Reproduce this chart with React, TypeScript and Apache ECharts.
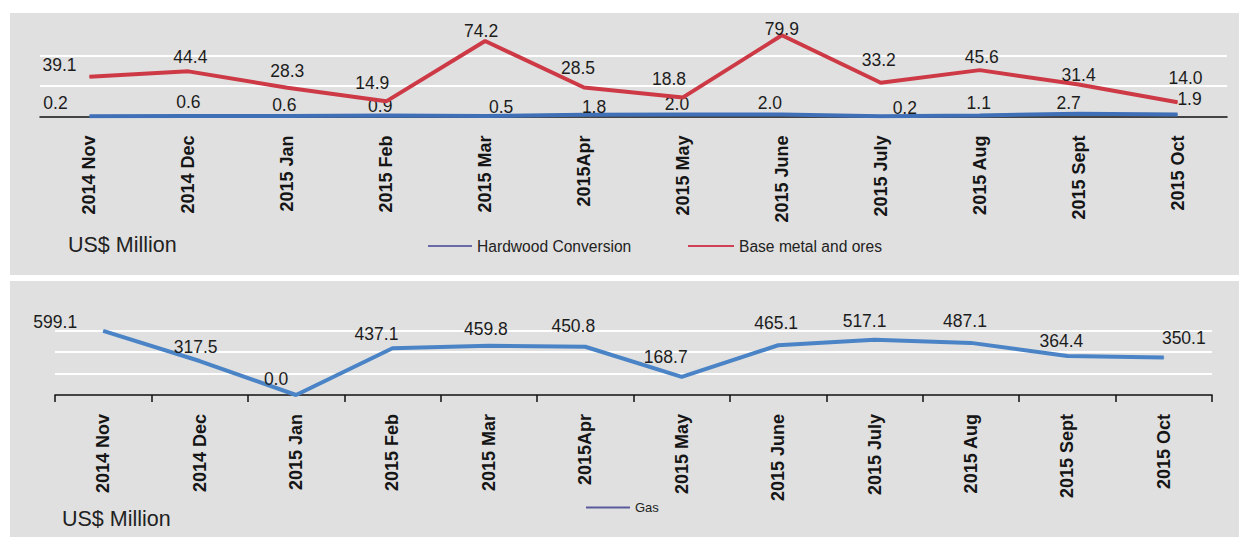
import React, { useEffect, useRef } from "react";
import * as echarts from "echarts";

const categories = [
  "2014 Nov", "2014 Dec", "2015 Jan", "2015 Feb", "2015 Mar", "2015Apr",
  "2015 May", "2015 June", "2015 July", "2015 Aug", "2015 Sept", "2015 Oct",
];
const hardwoodConversion = [0.2, 0.6, 0.6, 0.9, 0.5, 1.8, 2.0, 2.0, 0.2, 1.1, 2.7, 1.9];
const baseMetalOres = [39.1, 44.4, 28.3, 14.9, 74.2, 28.5, 18.8, 79.9, 33.2, 45.6, 31.4, 14.0];
const gas = [599.1, 317.5, 0.0, 437.1, 459.8, 450.8, 168.7, 465.1, 517.1, 487.1, 364.4, 350.1];

const topTicks = { min: 0, max: 90, interval: 30 };
const bottomTicks = { min: 0, max: 800, interval: 200 };

// label placement styling: [dx, rise above point]
const hardwoodLabelShift = [
  [-34, 13], [0, 13], [-3, 10], [-6, 9], [16, 8], [10, 7],
  [-6, 10], [-12, 11], [24, 8], [-1, 12], [-10, 10], [12, 15],
];
const baseMetalLabelShift = [
  [-30, 11], [2, 14], [0, 16], [-14, 18], [-4, 10], [-6, 19],
  [-14, 18], [0, 6], [-2, 22], [2, 13], [0, 9], [8, 24],
];
const gasLabelShift = [
  [-48, 8], [-4, 14], [-20, 16], [-16, 14], [-3, 16], [-12, 20],
  [-16, 19], [-2, 22], [-10, 18], [-6, 21], [-6, 15], [20, 19],
];

const FONT = "Arial, 'Liberation Sans', sans-serif";
const LABEL_SIZE = 17.5;

function withLabels(values: number[], shifts: number[][]) {
  return values.map((v, i) => ({
    value: v,
    label: { offset: [shifts[i][0], -(shifts[i][1] - LABEL_SIZE / 2)] },
  }));
}

export default function App() {
  const ref = useRef<HTMLDivElement>(null);

  useEffect(() => {
    if (!ref.current) return;
    const chart = echarts.init(ref.current, null, { renderer: "svg" });

    const labelStyle = {
      show: true,
      position: "top",
      distance: 0,
      fontSize: LABEL_SIZE,
      lineHeight: LABEL_SIZE,
      color: "#1c1c1c",
      fontFamily: FONT,
      formatter: (p: any) => Number(p.value).toFixed(1),
    };

    const catAxisLabel = {
      rotate: 90,
      fontSize: 18,
      fontWeight: "bold",
      color: "#151515",
      fontFamily: FONT,
      margin: 19,
    };

    const splitLine = {
      show: true,
      showMinLine: false,
      showMaxLine: false,
      lineStyle: { color: "#ffffff", width: 2 },
    };

    chart.setOption({
      animation: false,
      backgroundColor: "#ffffff",
      graphic: [
        { type: "rect", z: -10, silent: true, shape: { x: 10, y: 13, width: 1229, height: 262 }, style: { fill: "#e0e0e0" } },
        { type: "rect", z: -10, silent: true, shape: { x: 10, y: 281, width: 1229, height: 256 }, style: { fill: "#e0e0e0" } },
        { type: "text", x: 68, y: 245, style: { text: "US$ Million", fontSize: 21.5, fontFamily: FONT, fill: "#222", verticalAlign: "middle" } },
        { type: "text", x: 62, y: 519, style: { text: "US$ Million", fontSize: 21.5, fontFamily: FONT, fill: "#222", verticalAlign: "middle" } },
      ],
      legend: [
        {
          data: [{ name: "Hardwood Conversion", icon: "rect", itemStyle: { color: "#6a6aa8", borderWidth: 0 } }],
          left: 428, top: 238, padding: 0, itemWidth: 44, itemHeight: 2, selectedMode: false,
          textStyle: { fontSize: 15.6, color: "#222", fontFamily: FONT },
        },
        {
          data: [{ name: "Base metal and ores", icon: "rect", itemStyle: { color: "#cf4158", borderWidth: 0 } }],
          left: 688, top: 238, padding: 0, itemWidth: 46, itemHeight: 2, selectedMode: false,
          textStyle: { fontSize: 15.6, color: "#222", fontFamily: FONT },
        },
        {
          data: [{ name: "Gas", icon: "rect", itemStyle: { color: "#5b5b9c", borderWidth: 0 } }],
          left: 586, top: 501, padding: 0, itemWidth: 44, itemHeight: 2, selectedMode: false,
          textStyle: { fontSize: 13, color: "#222", fontFamily: FONT },
        },
      ],
      grid: [
        { left: 40, right: 12, top: 25, height: 91.5 },
        { left: 55, right: 27, top: 309.4, height: 85.6 },
      ],
      xAxis: [
        {
          type: "category", gridIndex: 0, data: categories, boundaryGap: true,
          axisLine: { lineStyle: { color: "#111", width: 1.5 } },
          axisTick: { show: false },
          axisLabel: catAxisLabel,
        },
        {
          type: "category", gridIndex: 1, data: categories, boundaryGap: true,
          axisLine: { lineStyle: { color: "#111", width: 1.5 } },
          axisTick: { show: true, length: 7, lineStyle: { color: "#111", width: 1.5 } },
          axisLabel: catAxisLabel,
        },
      ],
      yAxis: [
        {
          type: "value", gridIndex: 0, ...topTicks,
          axisLine: { show: false }, axisTick: { show: false }, axisLabel: { show: false },
          splitLine,
        },
        {
          type: "value", gridIndex: 1, ...bottomTicks,
          axisLine: { show: false }, axisTick: { show: false }, axisLabel: { show: false },
          splitLine,
        },
      ],
      series: [
        {
          name: "Hardwood Conversion", type: "line", xAxisIndex: 0, yAxisIndex: 0,
          data: withLabels(hardwoodConversion, hardwoodLabelShift),
          symbol: "circle", symbolSize: 1, showSymbol: true,
          lineStyle: { color: "#3f6fb7", width: 4 }, itemStyle: { color: "#3f6fb7" },
          label: labelStyle, z: 3,
        },
        {
          name: "Base metal and ores", type: "line", xAxisIndex: 0, yAxisIndex: 0,
          data: withLabels(baseMetalOres, baseMetalLabelShift),
          symbol: "circle", symbolSize: 1, showSymbol: true,
          lineStyle: { color: "#cd3a46", width: 4 }, itemStyle: { color: "#cd3a46" },
          label: labelStyle, z: 4,
        },
        {
          name: "Gas", type: "line", xAxisIndex: 1, yAxisIndex: 1,
          data: withLabels(gas, gasLabelShift),
          symbol: "circle", symbolSize: 1, showSymbol: true,
          lineStyle: { color: "#4a84c6", width: 4 }, itemStyle: { color: "#4a84c6" },
          label: labelStyle, z: 3,
        },
      ],
    });

    return () => chart.dispose();
  }, []);

  return (
    <div
      ref={ref}
      style={{ position: "fixed", left: 0, top: 0, width: 1239, height: 537 }}
    />
  );
}
